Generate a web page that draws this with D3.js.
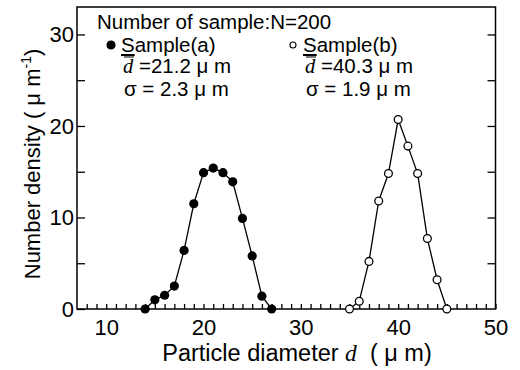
<!DOCTYPE html>
<html>
<head>
<meta charset="utf-8">
<script src="https://cdn.jsdelivr.net/npm/d3@7"></script>
<style>
  body { margin: 0; background: #fff; }
  svg { font-family: 'Liberation Sans', Arial, sans-serif; }
  .axis path { display: none; }
  .axis line { stroke: #000; stroke-width: 1.3; }
  .axis text { font-size: 22px; fill: #000; }
</style>
</head>
<body>
<svg width="520" height="370"></svg>
<script>
// sample (a), filled circles
const diamA = [14, 15, 16, 17, 18, 19, 20, 21, 22, 23, 24, 25, 26, 27];
const densA = [0, 1.0, 1.5, 2.5, 6.4, 11.5, 14.9, 15.4, 14.9, 13.9, 9.9, 5.8, 1.4, 0];
// sample (b), open circles
const diamB = [35, 36, 37, 38, 39, 40, 41, 42, 43, 44, 45];
const densB = [0, 0.85, 5.2, 11.8, 14.8, 20.7, 17.8, 14.8, 7.7, 3.2, 0];

const xTicks = d3.range(8, 51);
const xLabels = [10, 20, 30, 40, 50];
const yTicks = [0, 5, 10, 15, 20, 25, 30];
const yLabels = [0, 10, 20, 30];

const svg = d3.select('svg');

const x = d3.scaleLinear().domain([7, 50]).range([77, 495.5]);
const y = d3.scaleLinear().domain([0, 33]).range([309, 7]);

// frame
svg.append('rect')
  .attr('x', x(7)).attr('y', y(33))
  .attr('width', x(50) - x(7)).attr('height', y(0) - y(33))
  .attr('fill', 'none').attr('stroke', '#000').attr('stroke-width', 1.5);

svg.append('g')
  .attr('class', 'axis')
  .attr('transform', `translate(0,${y(0)})`)
  .call(d3.axisBottom(x)
    .tickValues(xTicks)
    .tickSize(-5)
    .tickPadding(10)
    .tickFormat(d => xLabels.includes(d) ? d : ''));

svg.append('g')
  .attr('class', 'axis')
  .attr('transform', `translate(${x(7)},0)`)
  .call(d3.axisLeft(y)
    .tickValues(yTicks)
    .tickSize(-8)
    .tickPadding(3)
    .tickFormat(d => yLabels.includes(d) ? d : ''));

svg.append('g')
  .attr('class', 'axis')
  .attr('transform', `translate(${x(50)},0)`)
  .call(d3.axisRight(y)
    .tickValues(yTicks.filter(d => d > 0))
    .tickSize(-8)
    .tickFormat(''));

const line = d3.line()
  .x(d => x(d[0]))
  .y(d => y(d[1]));

const ptsA = d3.zip(diamA, densA);
const ptsB = d3.zip(diamB, densB);

svg.append('path')
  .datum(ptsA)
  .attr('d', line)
  .attr('fill', 'none').attr('stroke', '#000').attr('stroke-width', 1.3);

svg.append('path')
  .datum(ptsB)
  .attr('d', line)
  .attr('fill', 'none').attr('stroke', '#000').attr('stroke-width', 1.3);

svg.append('g')
  .selectAll('circle')
  .data(ptsA)
  .enter().append('circle')
  .attr('cx', d => x(d[0]))
  .attr('cy', d => y(d[1]))
  .attr('r', 4.6)
  .attr('fill', '#000');

svg.append('g')
  .selectAll('circle')
  .data(ptsB)
  .enter().append('circle')
  .attr('cx', d => x(d[0]))
  .attr('cy', d => y(d[1]))
  .attr('r', 3.9)
  .attr('fill', '#fff')
  .attr('stroke', '#000')
  .attr('stroke-width', 1.3);

// axis titles
const xt = svg.append('text')
  .attr('x', 297).attr('y', 361)
  .attr('text-anchor', 'middle')
  .attr('font-size', 23.5);
xt.append('tspan').text('Particle diameter ');
xt.append('tspan').attr('font-family', 'Liberation Serif, serif').attr('font-style', 'italic').text('d');
xt.append('tspan').text('\u00a0\u00a0( \u03bc m)');

const yt = svg.append('text')
  .attr('transform', 'translate(40,164) rotate(-90)')
  .attr('text-anchor', 'middle')
  .attr('font-size', 22);
yt.append('tspan').text('Number density ( \u03bc m');
yt.append('tspan').attr('font-size', 14).attr('dy', -9).text('-1');
yt.append('tspan').attr('dy', 9).text(')');

// legend
const leg = svg.append('g').attr('font-size', 20.5);
leg.append('text').attr('x', 97).attr('y', 29).text('Number of sample:N=200');

function legendBlock(x0, label, mean, sigma, filled) {
  leg.append('circle')
    .attr('cx', x0 - 10).attr('cy', 45)
    .attr('r', filled ? 4 : 3)
    .attr('fill', filled ? '#000' : '#fff')
    .attr('stroke', '#000').attr('stroke-width', 1.1);
  const t = leg.append('text').attr('x', x0).attr('y', 52);
  t.append('tspan').attr('text-decoration', 'underline').text('S');
  t.append('tspan').text(label);
  const m = leg.append('text').attr('x', x0 + 2).attr('y', 73);
  m.append('tspan').attr('font-family', 'Liberation Serif, serif').attr('font-style', 'italic').text('d');
  m.append('tspan').text(' =' + mean + ' \u03bc m');
  leg.append('line')
    .attr('x1', x0 + 3).attr('x2', x0 + 13)
    .attr('y1', 57).attr('y2', 57)
    .attr('stroke', '#000').attr('stroke-width', 1);
  leg.append('text').attr('x', x0 + 3).attr('y', 96)
    .text('\u03c3 = ' + sigma + ' \u03bc m');
}
legendBlock(121, 'ample(a)', '21.2', '2.3', true);
legendBlock(303, 'ample(b)', '40.3', '1.9', false);
</script>
</body>
</html>
